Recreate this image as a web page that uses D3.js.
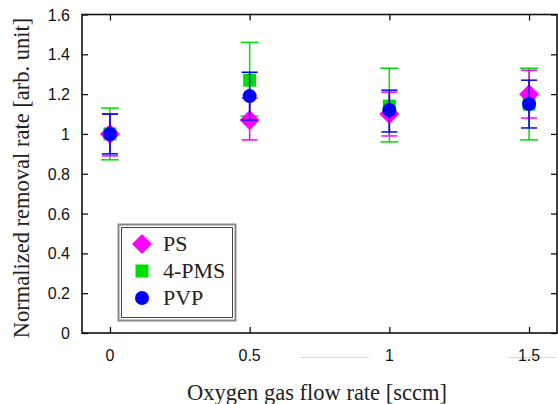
<!DOCTYPE html>
<html>
<head>
<meta charset="utf-8">
<script src="https://cdn.jsdelivr.net/npm/d3@7"></script>
<style>
  body { margin: 0; background: #fff; }
  svg { display: block; }
</style>
</head>
<body>
<div id="plot"></div>
<script>
    const flow = [0, 0.5, 1, 1.5];
    const seriesNames = ["PS", "4-PMS", "PVP"];
    const colors = ["#ff00ff", "#00dd00", "#0000ff"];

    // value, low end, high end of the error bar
    const psVal = [1.00, 1.07, 1.10, 1.20];
    const psLow = [0.89, 0.97, 0.99, 1.08];
    const psHigh = [1.10, 1.18, 1.21, 1.32];

    const pmsVal = [1.00, 1.27, 1.14, 1.15];
    const pmsLow = [0.87, 1.09, 0.96, 0.97];
    const pmsHigh = [1.13, 1.46, 1.33, 1.33];

    const pvpVal = [1.00, 1.19, 1.12, 1.15];
    const pvpLow = [0.90, 1.07, 1.01, 1.03];
    const pvpHigh = [1.10, 1.31, 1.22, 1.27];

    const xTicks = [0, 0.5, 1, 1.5];
    const yTicks = [0, 0.2, 0.4, 0.6, 0.8, 1, 1.2, 1.4, 1.6];

    const W = 558, H = 404;
    const padL = 82, padR = 557, padT = 14.5, padB = 333;

    const svg = d3.select("div#plot")
      .append("svg")
        .attr("width", W)
        .attr("height", H);

    const xScale = d3.scaleLinear()
      .domain([-0.1, 1.6])
      .range([padL, padR]);

    const yScale = d3.scaleLinear()
      .domain([0, 1.6])
      .range([padB, padT]);

    // faint grey strokes under the axis labels
    svg.append("line")
      .attr("x1", 299).attr("x2", 369).attr("y1", 357.5).attr("y2", 357.5)
      .attr("stroke", "#d8d8d8").attr("stroke-width", 1);
    svg.append("line")
      .attr("x1", 508).attr("x2", 557).attr("y1", 357.5).attr("y2", 357.5)
      .attr("stroke", "#d8d8d8").attr("stroke-width", 1);

    // inward ticks on all four sides
    const tickFont = "'Liberation Sans', Arial, sans-serif";

    svg.append("g")
      .attr("transform", `translate(0, ${padB})`)
      .call(d3.axisTop(xScale).tickValues(xTicks).tickSize(6).tickFormat(""))
      .call(g => g.select(".domain").remove());

    svg.append("g")
      .attr("transform", `translate(0, ${padT})`)
      .call(d3.axisBottom(xScale).tickValues(xTicks).tickSize(6).tickFormat(""))
      .call(g => g.select(".domain").remove());

    svg.append("g")
      .attr("transform", `translate(${padL}, 0)`)
      .call(d3.axisRight(yScale).tickValues(yTicks).tickSize(6).tickFormat(""))
      .call(g => g.select(".domain").remove());

    svg.append("g")
      .attr("transform", `translate(${padR}, 0)`)
      .call(d3.axisLeft(yScale).tickValues(yTicks).tickSize(6).tickFormat(""))
      .call(g => g.select(".domain").remove());

    svg.selectAll(".tick line").attr("stroke", "#111").attr("stroke-width", 1.3);

    svg.append("g")
      .selectAll("text")
      .data(xTicks)
      .enter()
      .append("text")
        .attr("x", d => xScale(d))
        .attr("y", 361)
        .attr("text-anchor", "middle")
        .style("font-family", tickFont)
        .style("font-size", "16px")
        .attr("fill", "#111")
        .text(d => d);

    svg.append("g")
      .selectAll("text")
      .data(yTicks)
      .enter()
      .append("text")
        .attr("x", 70)
        .attr("y", d => yScale(d) + 6)
        .attr("text-anchor", "end")
        .style("font-family", tickFont)
        .style("font-size", "16px")
        .attr("fill", "#111")
        .text(d => d);

    svg.append("rect")
      .attr("x", padL)
      .attr("y", padT)
      .attr("width", padR - padL)
      .attr("height", padB - padT)
      .attr("fill", "none")
      .attr("stroke", "#111")
      .attr("stroke-width", 1.6);

    const serif = "'Liberation Serif', 'Times New Roman', serif";

    svg.append("text")
      .attr("x", 317)
      .attr("y", 400)
      .attr("text-anchor", "middle")
      .style("font-family", serif)
      .style("font-size", "22.5px")
      .attr("fill", "#222")
      .text("Oxygen gas flow rate [sccm]");

    svg.append("text")
      .attr("transform", "translate(29, 178) rotate(-90)")
      .attr("text-anchor", "middle")
      .style("font-family", serif)
      .style("font-size", "22.5px")
      .attr("fill", "#222")
      .text("Normalized removal rate [arb. unit]");

    function drawMarker(g, name, x, y, color) {
      if (name === "PS") {
        g.append("path")
          .attr("d", `M${x},${y - 10}L${x + 10},${y}L${x},${y + 10}L${x - 10},${y}Z`)
          .attr("fill", color);
      } else if (name === "4-PMS") {
        g.append("rect")
          .attr("x", x - 6.5).attr("y", y - 6.5)
          .attr("width", 13).attr("height", 13)
          .attr("fill", color);
      } else {
        g.append("circle")
          .attr("cx", x).attr("cy", y).attr("r", 7)
          .attr("fill", color);
      }
    }

    const series = [
      { name: "4-PMS", color: colors[1], val: pmsVal, low: pmsLow, high: pmsHigh, cap: 9 },
      { name: "PS", color: colors[0], val: psVal, low: psLow, high: psHigh, cap: 8 },
      { name: "PVP", color: colors[2], val: pvpVal, low: pvpLow, high: pvpHigh, cap: 8 },
    ];

    series.forEach(s => {
      const g = svg.append("g");
      flow.forEach((f, i) => {
        const x = xScale(f);
        g.append("line")
          .attr("x1", x).attr("x2", x)
          .attr("y1", yScale(s.low[i])).attr("y2", yScale(s.high[i]))
          .attr("stroke", s.color).attr("stroke-width", 1.5);
        [s.low[i], s.high[i]].forEach(v => {
          g.append("line")
            .attr("x1", x - s.cap).attr("x2", x + s.cap)
            .attr("y1", yScale(v)).attr("y2", yScale(v))
            .attr("stroke", s.color).attr("stroke-width", 1.5);
        });
        drawMarker(g, s.name, x, yScale(s.val[i]), s.color);
      });
    });

    // legend
    const key = svg.append("g");
    key.append("rect")
      .attr("x", 118.5).attr("y", 224.5)
      .attr("width", 117).attr("height", 96)
      .attr("fill", "#fff")
      .attr("stroke", "#888").attr("stroke-width", 2);
    key.append("rect")
      .attr("x", 121.5).attr("y", 227.5)
      .attr("width", 111).attr("height", 90)
      .attr("fill", "none")
      .attr("stroke", "#444").attr("stroke-width", 1);

    seriesNames.forEach((name, i) => {
      const y = 244 + i * 27;
      drawMarker(key, name, 142, y, colors[i]);
      key.append("text")
        .attr("x", 163)
        .attr("y", y + 7)
        .style("font-family", serif)
        .style("font-size", "22px")
        .attr("fill", "#222")
        .text(name);
    });
</script>
</body>
</html>
